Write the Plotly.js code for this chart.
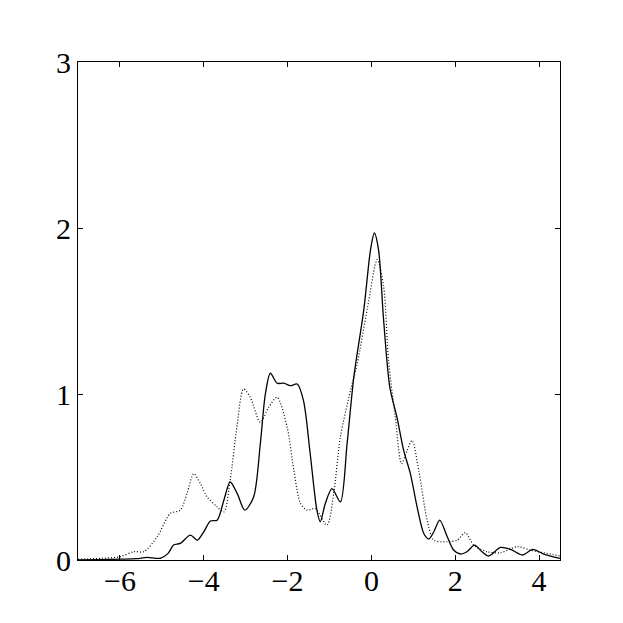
<!DOCTYPE html>
<html>
<head>
<meta charset="utf-8">
<script src="https://cdn.plot.ly/plotly-3.0.1.min.js"></script>
<style>
  html, body { margin: 0; padding: 0; background: #fff; }
  #plot { width: 623px; height: 623px; }
</style>
</head>
<body>
<div id="plot"></div>
<script>
// solid curve
const solidX = [-7.0, -6.5, -6.0, -5.6, -5.35, -5.04, -4.85, -4.72, -4.56, -4.32, -4.15, -4.0, -3.84, -3.68,
    -3.52, -3.37, -3.2, -3.02, -2.81, -2.65, -2.53, -2.41, -2.25, -2.09, -1.93, -1.77, -1.62,
    -1.46, -1.3, -1.22, -1.1, -0.94, -0.74, -0.58, -0.42, -0.18, -0.02, 0.07, 0.17, 0.29,
    0.44, 0.61, 0.77, 0.93, 1.09, 1.25, 1.37, 1.49, 1.63, 1.81, 1.96, 2.12, 2.28, 2.46,
    2.64, 2.8, 3.08, 3.32, 3.6, 3.85, 4.11, 4.5];
const solidY = [0.0, 0.002, 0.005, 0.008, 0.016, 0.01, 0.04, 0.09, 0.1, 0.15, 0.12, 0.17, 0.235, 0.24,
    0.36, 0.47, 0.4, 0.3, 0.38, 0.7, 1.0, 1.125, 1.065, 1.065, 1.05, 1.06, 0.96,
    0.64, 0.3, 0.23, 0.34, 0.43, 0.35, 0.7, 1.1, 1.51, 1.87, 1.97, 1.87, 1.45,
    1.04, 0.86, 0.66, 0.52, 0.32, 0.16, 0.127, 0.17, 0.24, 0.14, 0.06, 0.036, 0.05, 0.09,
    0.05, 0.024, 0.076, 0.064, 0.03, 0.064, 0.036, 0.01];

// dotted curve
const dottedX = [-7.0, -6.47, -5.99, -5.67, -5.43, -5.11, -4.8, -4.56, -4.4, -4.24, -4.08, -3.92, -3.68,
    -3.52, -3.37, -3.21, -3.05, -2.89, -2.65, -2.45, -2.25, -2.01, -1.85, -1.69, -1.53,
    -1.34, -1.06, -0.9, -0.74, -0.5, -0.34, -0.1, 0.14, 0.29, 0.41, 0.57, 0.72, 0.85,
    0.97, 1.13, 1.33, 1.49, 1.81, 2.05, 2.24, 2.44, 2.76, 3.08, 3.48, 3.79, 4.11, 4.5];
const dottedY = [0.004, 0.01, 0.02, 0.05, 0.05, 0.14, 0.28, 0.3, 0.4, 0.52, 0.46, 0.38, 0.32,
    0.29, 0.48, 0.8, 1.03, 0.98, 0.83, 0.92, 0.98, 0.8, 0.54, 0.34, 0.3,
    0.31, 0.21, 0.4, 0.74, 1.02, 1.18, 1.51, 1.81, 1.65, 1.2, 0.86, 0.58, 0.66,
    0.72, 0.54, 0.24, 0.12, 0.11, 0.12, 0.165, 0.09, 0.05, 0.044, 0.08, 0.06, 0.044, 0.024];

const xTicks = [-6, -4, -2, 0, 2, 4];
const yTicks = [0, 1, 2, 3];

const traces = [
    {
        x: dottedX,
        y: dottedY,
        type: 'scatter',
        mode: 'lines',
        line: { color: '#000', width: 1.2, dash: '1px,2px', shape: 'spline', smoothing: 0.8 },
    },
    {
        x: solidX,
        y: solidY,
        type: 'scatter',
        mode: 'lines',
        line: { color: '#000', width: 1.3, shape: 'spline', smoothing: 0.8 },
    },
];

function axis(range, tickvals, standoff) {
    return {
        range: range,
        tickvals: tickvals,
        showgrid: false,
        zeroline: false,
        showline: true,
        linecolor: '#000',
        linewidth: 1,
        mirror: 'allticks',
        ticks: 'inside',
        ticklen: 5,
        tickcolor: '#000',
        ticklabelstandoff: standoff,
        tickfont: { family: 'Liberation Serif', size: 30, color: '#000' },
    };
}

const layout = {
    width: 623,
    height: 623,
    margin: { l: 78, r: 63, t: 62, b: 63 },
    paper_bgcolor: '#fff',
    plot_bgcolor: '#fff',
    showlegend: false,
    xaxis: axis([-7, 4.5], xTicks, -6),
    yaxis: axis([0, 3], yTicks, 0),
};

Plotly.newPlot('plot', traces, layout, { displayModeBar: false, staticPlot: true });
</script>
</body>
</html>
